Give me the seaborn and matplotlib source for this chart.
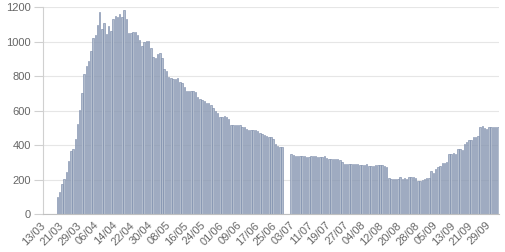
import numpy as np
import pandas as pd
import matplotlib
matplotlib.use("Agg")
import matplotlib.pyplot as plt
import seaborn as sns

# ---- data -------------------------------------------------------------
axis_start = "2020-03-13"
axis_end = "2020-10-03"
data_start = "2020-03-19"

values = [
    97, 128, 174, 201, 246, 309, 367, 375, 433, 524,
    603, 704, 810, 862, 888, 946, 1019, 1040, 1097, 1170,
    1073, 1106, 1044, 1089, 1062, 1131, 1149, 1143, 1160, 1145,
    1182, 1131, 1048, 1052, 1058, 1054, 1040, 1010, 975, 996,
    1002, 1002, 963, 913, 905, 926, 932, 903, 839, 832,
    797, 787, 783, 785, 789, 768, 758, 739, 716, 714,
    716, 714, 706, 681, 667, 661, 656, 646, 646, 630,
    613, 600, 584, 565, 565, 569, 565, 551, 516, 514,
    514, 514, 516, 503, 503, 495, 487, 485, 485, 487,
    484, 470, 464, 458, 451, 449, 445, 433, 404, 396,
    391, 389,
    None, None, None,
    348, 344, 338, 336, 336, 336, 336, 333, 333, 336, 336, 336, 329,
    329, 331, 335, 327,
    319, 319, 319, 321, 321, 313, 300,
    290, 290, 290, 290, 290, 290, 288, 284, 284, 284, 288,
    278, 278, 278, 282, 282, 282, 282, 278, 275,
    207, 203, 201, 201, 203, 213, 201, 207, 203, 213,
    213, 213, 207, 191, 191, 197, 201, 207, 207,
    249, 236, 259, 271, 280, 294, 298, 300,
    346, 346, 352, 348, 375, 375, 371, 404, 420, 429, 429, 447, 447, 453,
    507, 513, 499, 493, 507, 503, 503, 503, 503,
]

tick_labels = ["13/03", "21/03", "29/03", "06/04", "14/04", "22/04", "30/04",
               "08/05", "16/05", "24/05", "01/06", "09/06", "17/06", "25/06",
               "03/07", "11/07", "19/07", "27/07", "04/08", "12/08", "20/08",
               "28/08", "05/09", "13/09", "21/09", "29/09"]

y_ticks = [0, 200, 400, 600, 800, 1000, 1200]

# ---- build frame ------------------------------------------------------
order = [d.strftime("%d/%m") for d in pd.date_range(axis_start, axis_end)]
data_days = [d.strftime("%d/%m") for d in pd.date_range(data_start, periods=len(values))]
df = pd.DataFrame({"day": data_days, "value": values}).dropna()
df["value"] = df["value"].astype(float)

# ---- plot -------------------------------------------------------------
sns.set_theme(style="white")
plt.rcParams["font.family"] = ["Liberation Sans", "DejaVu Sans"]

W, H = 505, 252
fig = plt.figure(figsize=(W / 100, H / 100), dpi=100)
ax = fig.add_axes([43 / W, 38 / H, 456 / W, (214 - 7.3) / H])

sns.barplot(data=df, x="day", y="value", order=order, color="#b3bdcd",
            edgecolor="#7384a5", linewidth=0.4, width=0.66, saturation=1,
            ax=ax, errorbar=None)

ax.set_ylim(0, 1200)
ax.set_xlim(-0.5, len(order) - 0.5)
ax.set_yticks(y_ticks)
ax.set_yticklabels([str(v) for v in y_ticks])
ax.yaxis.grid(True, color="#e6e6e6", linewidth=0.8)
ax.set_axisbelow(True)

pos = [order.index(t) for t in tick_labels]
ax.set_xticks(pos)
ax.set_xticklabels(tick_labels, rotation=45, ha="right", va="center",
                   rotation_mode="anchor")
ax.set_xlabel("")
ax.set_ylabel("")

for s in ["top", "right"]:
    ax.spines[s].set_visible(False)
ax.spines["left"].set_color("#d0d0d0")
ax.spines["left"].set_linewidth(0.8)
ax.spines["bottom"].set_color("#c0c0c0")
ax.spines["bottom"].set_linewidth(0.8)

ax.tick_params(axis="y", length=6.5, width=0.8, color="#d0d0d0",
               labelsize=8, labelcolor="#666666", pad=2, left=True)
ax.tick_params(axis="x", length=0, labelsize=8, labelcolor="#666666", pad=7)

fig.savefig("out.png", dpi=100)
